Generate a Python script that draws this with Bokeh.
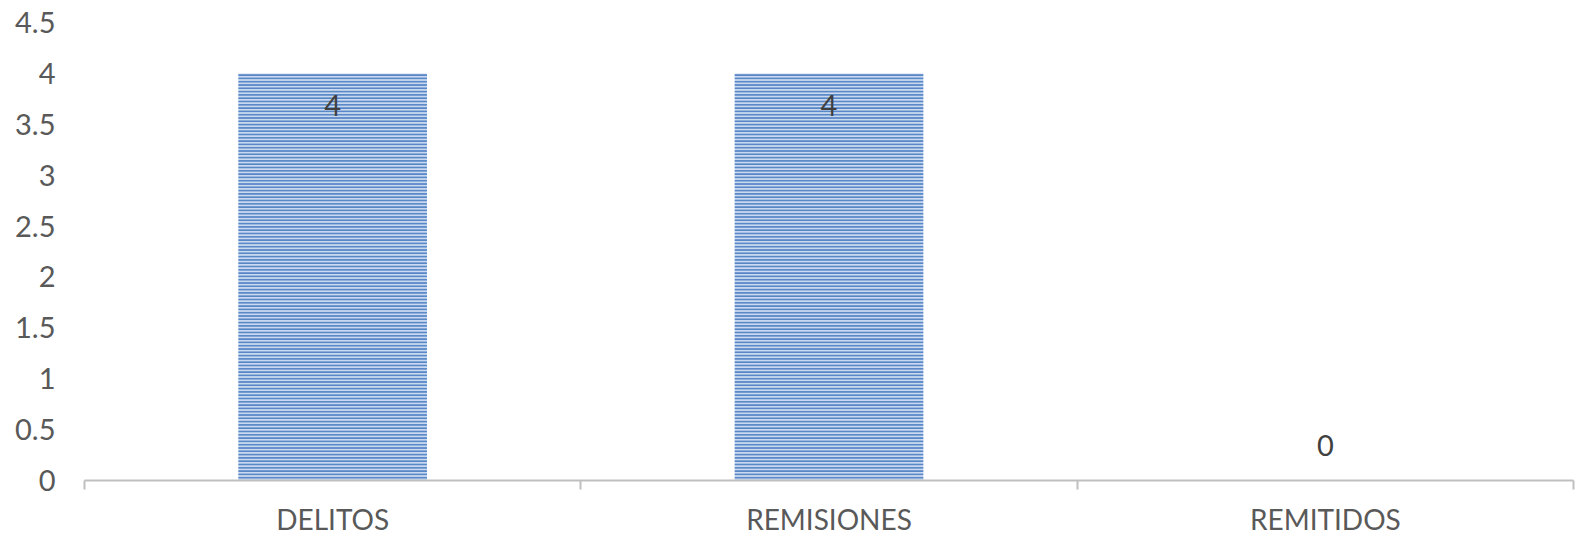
from bokeh.plotting import figure
from bokeh.models import Range1d, FixedTicker, ColumnDataSource
from bokeh.core.properties import value
from bokeh.embed import file_html
from bokeh.resources import INLINE

categories = ["DELITOS", "REMISIONES", "REMITIDOS"]
values = [4, 4, 0]
ytick_values = [0, 0.5, 1, 1.5, 2, 2.5, 3, 3.5, 4, 4.5]
ytick_labels = ["0", "0.5", "1", "1.5", "2", "2.5", "3", "3.5", "4", "4.5"]

FONT = "Lato"
n = len(categories)
centers = [i + 0.5 for i in range(n)]

p = figure(width=1575, height=538, output_backend="svg", toolbar_location=None,
           x_range=Range1d(0, n), y_range=Range1d(0, 4.5),
           min_border_left=84, min_border_right=2, min_border_top=22, min_border_bottom=57)
p.outline_line_color = None
p.grid.visible = False
p.background_fill_color = "white"
p.border_fill_color = "white"

src = ColumnDataSource(dict(x=centers, top=values, label=[str(v) for v in values],
                            off=[32 if v > 0 else -35 for v in values]))
p.vbar(x="x", top="top", bottom=0, width=0.38, source=src,
       fill_color="#C9D9EF", line_color=None,
       hatch_pattern="horizontal_line", hatch_color="#5685C6",
       hatch_scale=3.3, hatch_weight=1.9)

p.text(x="x", y="top", text="label", source=src, y_offset="off",
       text_align="center", text_baseline="middle",
       text_font=value(FONT), text_font_size="29px", text_color="#404040")

xa = p.xaxis[0]
xa.ticker = FixedTicker(ticks=centers, minor_ticks=list(range(n + 1)))
xa.major_label_overrides = {c: lab for c, lab in zip(centers, categories)}
xa.major_tick_line_color = None
xa.major_tick_out = 0
xa.major_tick_in = 0
xa.minor_tick_in = 0
xa.minor_tick_out = 9
xa.minor_tick_line_color = "#BFBFBF"
xa.minor_tick_line_width = 2
xa.axis_line_color = "#BFBFBF"
xa.axis_line_width = 2
xa.major_label_text_font = FONT
xa.major_label_text_font_size = "28px"
xa.major_label_text_color = "#595959"
xa.major_label_standoff = 12

ya = p.yaxis[0]
ya.ticker = FixedTicker(ticks=ytick_values)
ya.major_label_overrides = {v: lab for v, lab in zip(ytick_values, ytick_labels)}
ya.axis_line_color = None
ya.major_tick_line_color = None
ya.minor_tick_line_color = None
ya.major_tick_out = 0
ya.major_tick_in = 0
ya.major_label_text_font = FONT
ya.major_label_text_font_size = "29px"
ya.major_label_text_color = "#595959"
ya.major_label_standoff = 29

open("out.html", "w").write(file_html(p, INLINE))
